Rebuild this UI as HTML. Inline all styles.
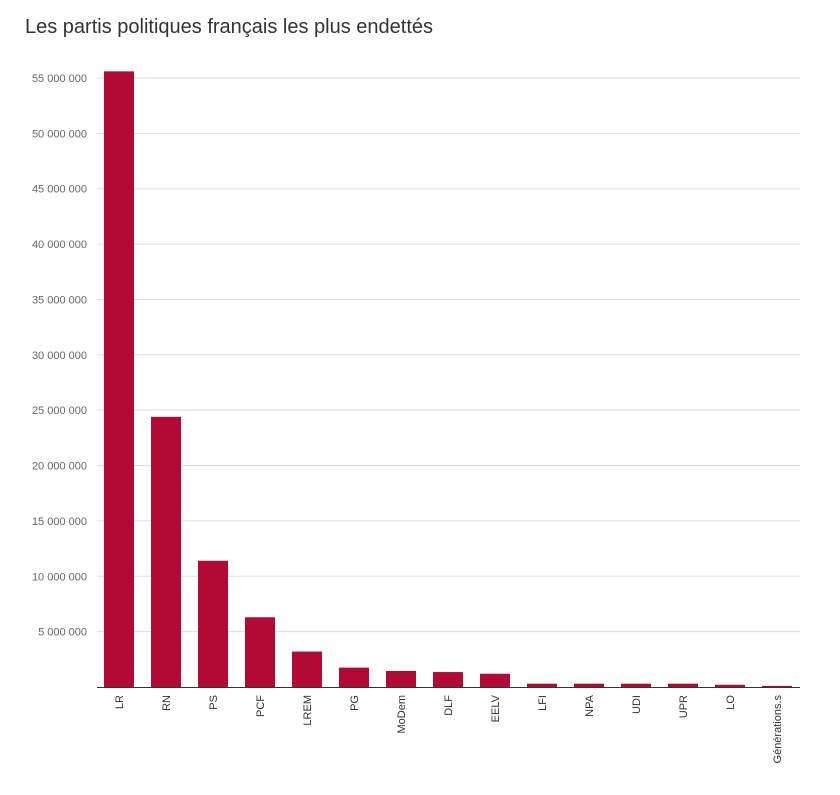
<!DOCTYPE html>
<html><head><meta charset="utf-8"><style>
body{margin:0;background:#fff;font-family:"Liberation Sans",sans-serif}
</style></head><body>
<svg width="840" height="790" id="c">
<text x="25" y="33" font-size="20" fill="#333">Les partis politiques français les plus endettés</text>
</svg>
<script>
const categories=["LR","RN","PS","PCF","LREM","PG","MoDem","DLF","EELV","LFI","NPA","UDI","UPR","LO","Générations.s"];
const values=[55600000,24400000,11400000,6300000,3200000,1750000,1450000,1350000,1200000,300000,300000,300000,300000,200000,100000];
const ticks=[5000000,10000000,15000000,20000000,25000000,30000000,35000000,40000000,45000000,50000000,55000000];
const tickLabels=["5 000 000","10 000 000","15 000 000","20 000 000","25 000 000","30 000 000","35 000 000","40 000 000","45 000 000","50 000 000","55 000 000"];
const svg=document.getElementById('c');const NS='http://www.w3.org/2000/svg';
const x0=97,x1=800,y0=687,ymax=55000000,ytop=78;
const y=v=>y0-(v/ymax)*(y0-ytop);
const step=47,bw=30;const x=i=>104+i*step;
function mk(t,a){const e=document.createElementNS(NS,t);for(const k in a)e.setAttribute(k,a[k]);svg.appendChild(e);return e;}
ticks.forEach((t,i)=>{
const g=mk('line',{x1:x0,x2:x1,y1:y(t),y2:y(t),stroke:'#ddd','stroke-width':1});


const l=mk('text',{x:87,y:y(t)+4,'text-anchor':'end','font-size':11,fill:'#666'});
l.textContent=tickLabels[i];


});
values.forEach((v,i)=>{
const r=mk('rect',{x:x(i),y:y(v),width:bw,height:y0-y(v),fill:'#b30a35'});


const t=mk('text',{transform:`translate(${x(i)+bw/2+4},695) rotate(-90)`,'text-anchor':'end','font-size':11,fill:'#333'});
t.textContent=categories[i];


});
const ax=mk('line',{x1:x0,x2:x1,y1:y0+0.5,y2:y0+0.5,stroke:'#333','stroke-width':1});


</script>
</body></html>
